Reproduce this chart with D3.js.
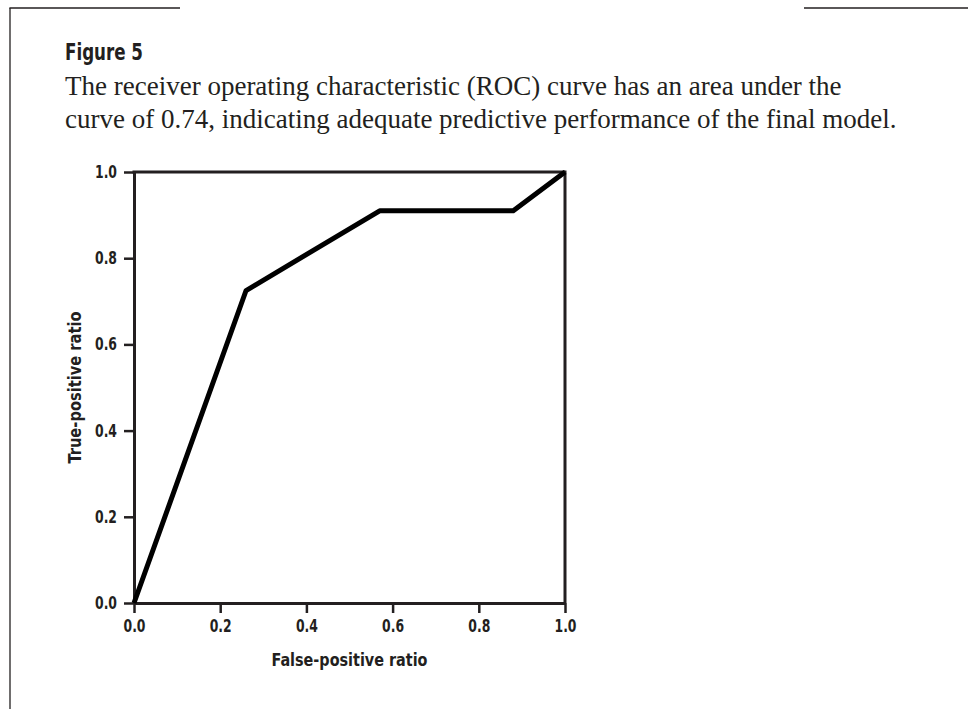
<!DOCTYPE html>
<html>
<head>
<meta charset="utf-8">
<script src="https://cdn.jsdelivr.net/npm/d3@7"></script>
<style>
  html, body { margin: 0; padding: 0; background: #fff; }
  svg { display: block; }
  .cond { font-family: "Liberation Sans Narrow", "DejaVu Sans Condensed", "Arial Narrow", sans-serif; font-stretch: condensed; font-weight: bold; }
  .serif { font-family: "Liberation Serif", "DejaVu Serif", serif; }
</style>
</head>
<body>
<script>
// ROC curve of the final model
const fprValues = [0, 0.26, 0.57, 0.88, 1.0];
const tprValues = [0, 0.725, 0.91, 0.91, 1.0];
const tickValues = [0, 0.2, 0.4, 0.6, 0.8, 1.0];
const tickLabels = ["0.0", "0.2", "0.4", "0.6", "0.8", "1.0"];
const figureLabel = "Figure 5";
const captionLines = [
  "The receiver operating characteristic (ROC) curve has an area under the",
  "curve of 0.74, indicating adequate predictive performance of the final model."
];
const xTitle = "False-positive ratio";
const yTitle = "True-positive ratio";

const W = 968, H = 709;
const ink = "#231f20";

const svg = d3.select("body").append("svg")
  .attr("width", W).attr("height", H);

// Page frame: left rule and top rules
svg.append("line").attr("x1", 10).attr("y1", 8).attr("x2", 10).attr("y2", H)
  .attr("stroke", ink).attr("stroke-width", 1.3);
svg.append("line").attr("x1", 9.4).attr("y1", 8).attr("x2", 180).attr("y2", 8)
  .attr("stroke", ink).attr("stroke-width", 1.3);
svg.append("line").attr("x1", 804).attr("y1", 8).attr("x2", W).attr("y2", 8)
  .attr("stroke", ink).attr("stroke-width", 1.3);

// Heading and caption
svg.append("text").attr("class", "cond")
  .attr("x", 65).attr("y", 60)
  .attr("font-size", 23).attr("fill", ink)
  .attr("textLength", 78).attr("lengthAdjust", "spacingAndGlyphs")
  .text(figureLabel);

svg.selectAll("text.caption").data(captionLines).join("text")
  .attr("class", "serif caption")
  .attr("x", 65).attr("y", (d, i) => 95 + i * 33)
  .attr("font-size", 27).attr("fill", ink)
  .text(d => d);

// Plot area
const x0 = 134, x1 = 565, y0 = 603, y1 = 172;
const x = d3.scaleLinear().domain([0, 1]).range([x0, x1]);
const y = d3.scaleLinear().domain([0, 1]).range([y0, y1]);

const xAxis = d3.axisBottom(x).tickValues(tickValues)
  .tickFormat((d, i) => tickLabels[i]).tickSize(10).tickSizeOuter(0).tickPadding(7);
const yAxis = d3.axisLeft(y).tickValues(tickValues)
  .tickFormat((d, i) => tickLabels[i]).tickSize(10).tickSizeOuter(0).tickPadding(7);

const gx = svg.append("g").attr("transform", `translate(0,${y0})`).call(xAxis);
const gy = svg.append("g").attr("transform", `translate(${x0},0)`).call(yAxis);

[gx, gy].forEach(g => {
  g.select(".domain").attr("stroke", ink).attr("stroke-width", 3);
  g.selectAll(".tick line").attr("stroke", ink).attr("stroke-width", 2.5);
  g.selectAll(".tick text").attr("class", "cond").attr("font-size", 17).attr("fill", ink)
    .attr("textLength", 22).attr("lengthAdjust", "spacingAndGlyphs");
});

// Top and right frame edges of the plot box
svg.append("line").attr("x1", x(0) - 1.5).attr("y1", y(1)).attr("x2", x(1)).attr("y2", y(1))
  .attr("stroke", ink).attr("stroke-width", 3);
svg.append("line").attr("x1", x(1)).attr("y1", y(1) - 1.5).attr("x2", x(1)).attr("y2", y(0))
  .attr("stroke", ink).attr("stroke-width", 3);

// ROC curve
const pts = fprValues.map((f, i) => [f, tprValues[i]]);
svg.append("path").datum(pts)
  .attr("fill", "none").attr("stroke", "#000").attr("stroke-width", 5)
  .attr("stroke-linejoin", "round")
  .attr("d", d3.line().x(d => x(d[0])).y(d => y(d[1])));

// Axis titles
svg.append("text").attr("class", "cond")
  .attr("x", (x0 + x1) / 2).attr("y", 666)
  .attr("text-anchor", "middle").attr("font-size", 17.5).attr("fill", ink)
  .attr("textLength", 156).attr("lengthAdjust", "spacingAndGlyphs")
  .text(xTitle);
svg.append("text").attr("class", "cond")
  .attr("transform", `translate(81,${(y0 + y1) / 2}) rotate(-90)`)
  .attr("text-anchor", "middle").attr("font-size", 17.5).attr("fill", ink)
  .attr("textLength", 152).attr("lengthAdjust", "spacingAndGlyphs")
  .text(yTitle);
</script>
</body>
</html>
